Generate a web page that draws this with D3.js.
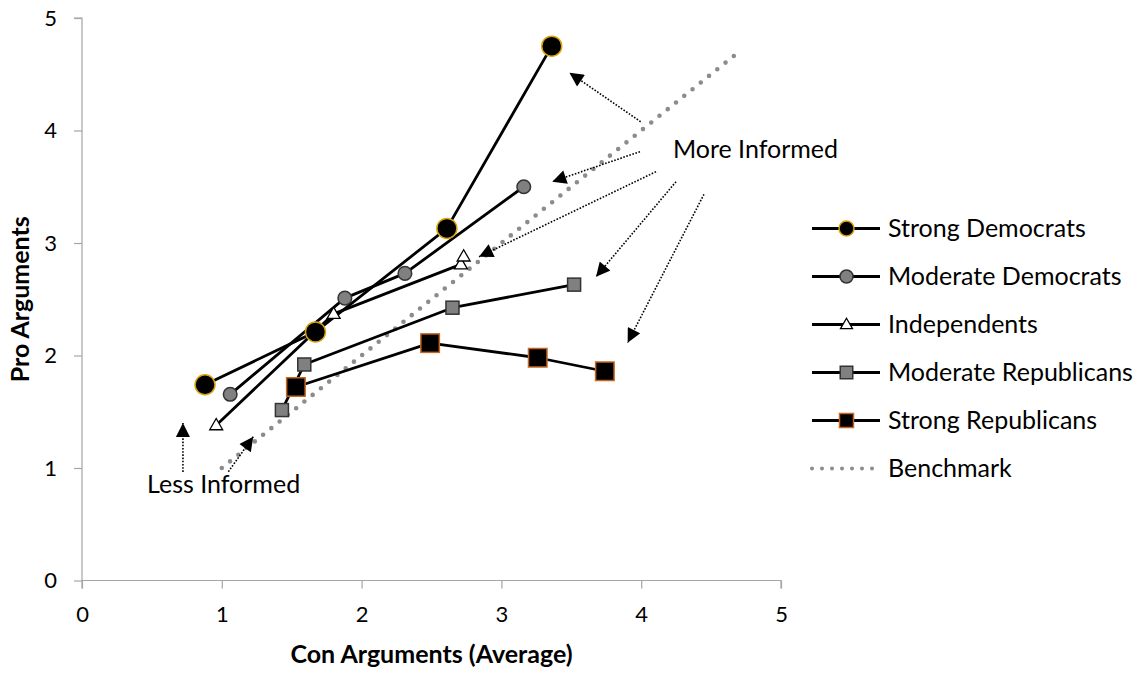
<!DOCTYPE html>
<html>
<head>
<meta charset="utf-8">
<script src="https://cdn.jsdelivr.net/npm/d3@7"></script>
<style>
  html, body { margin: 0; padding: 0; background: #fff; }
  svg { display: block; font-family: Lato, "Open Sans", sans-serif; }
</style>
</head>
<body>
<svg id="chart" width="1147" height="673"></svg>
<script>
// Average number of con (x) and pro (y) arguments, by partisan group
const strongDemocrats = [[0.88, 1.74], [1.67, 2.21], [2.61, 3.13], [3.36, 4.75]];
const moderateDemocrats = [[1.06, 1.655], [1.88, 2.51], [2.31, 2.73], [3.16, 3.50]];
const independents = [[0.96, 1.38], [1.80, 2.37], [2.71, 2.81], [2.73, 2.88]];
const moderateRepublicans = [[1.43, 1.515], [1.59, 1.92], [2.65, 2.425], [3.52, 2.63]];
const strongRepublicans = [[1.53, 1.72], [2.49, 2.11], [3.26, 1.98], [3.74, 1.86]];
const benchmark = [[1.0, 1.0], [4.72, 4.72]];

const seriesNames = ["Strong Democrats", "Moderate Democrats", "Independents",
                     "Moderate Republicans", "Strong Republicans", "Benchmark"];
const xTicks = [0, 1, 2, 3, 4, 5];
const yTicks = [0, 1, 2, 3, 4, 5];

// Annotation arrows (from -> to) in chart units
const lessInformedArrows = [
  [[0.722, 0.965], [0.722, 1.40]],
  [[1.047, 0.967], [1.225, 1.278]]
];
const moreInformedArrows = [
  [[3.996, 4.078], [3.487, 4.514]],
  [[3.991, 3.812], [3.364, 3.545]],
  [[4.106, 3.634], [2.840, 2.878]],
  [[4.249, 3.545], [3.677, 2.700]],
  [[4.449, 3.433], [3.903, 2.114]]
];
const annotationLabels = [
  { text: "More Informed", at: [4.227, 3.755] },
  { text: "Less Informed", at: [0.465, 0.78] }
];

const svg = d3.select("#chart");
const x = d3.scaleLinear().domain([0, 5]).range([82, 781]);
const y = d3.scaleLinear().domain([0, 5]).range([580.5, 18]);

const axisColor = "#a6a6a6";
const labelSize = "25px";

// Axes
const gx = svg.append("g").attr("transform", `translate(0,${y(0)})`)
  .call(d3.axisBottom(x).tickValues(xTicks).tickFormat(d3.format("d")).tickSize(8).tickPadding(18));
const gy = svg.append("g").attr("transform", `translate(${x(0)},0)`)
  .call(d3.axisLeft(y).tickValues(yTicks).tickFormat(d3.format("d")).tickSize(8).tickPadding(17));
[gx, gy].forEach(g => {
  g.select(".domain").attr("stroke", axisColor).attr("stroke-width", 1.2);
  g.selectAll(".tick line").attr("stroke", axisColor).attr("stroke-width", 1.2);
  g.selectAll(".tick text").attr("fill", "#000").style("font-size", "22px")
    .style("font-family", "Lato, 'Open Sans', sans-serif");
});
gx.select(".domain").attr("d", `M${x(0)},0H${x(5)}V8`);
gy.select(".domain").attr("d", `M-8,${y(5)}H0V${y(0) + 8}`);

// Axis titles
svg.append("text").attr("x", (x(0) + x(5)) / 2).attr("y", 663)
  .attr("text-anchor", "middle").style("font-size", labelSize).style("font-weight", "bold")
  .text("Con Arguments (Average)");
svg.append("text").attr("transform", `translate(29,${(y(0) + y(5)) / 2}) rotate(-90)`)
  .attr("text-anchor", "middle").style("font-size", labelSize).style("font-weight", "bold")
  .text("Pro Arguments");

const line = d3.line().x(d => x(d[0])).y(d => y(d[1]));

const series = [
  { name: seriesNames[0], data: strongDemocrats, shape: "circle", size: 10, lsize: 7.5, fill: "#000", stroke: "#d9a30b" },
  { name: seriesNames[1], data: moderateDemocrats, shape: "circle", size: 6.8, lsize: 6.5, fill: "#808080", stroke: "#333" },
  { name: seriesNames[2], data: independents, shape: "triangle", size: 13, lsize: 12, fill: "#fff", stroke: "#000" },
  { name: seriesNames[3], data: moderateRepublicans, shape: "square", size: 13, lsize: 12.5, fill: "#808080", stroke: "#333" },
  { name: seriesNames[4], data: strongRepublicans, shape: "square", size: 18.5, lsize: 14, fill: "#000", stroke: "#c8661f" }
];

// Benchmark dotted line
const benchStyle = g => g.attr("stroke", "#8c8c8c").attr("stroke-width", 4.6)
  .attr("stroke-linecap", "round").attr("stroke-dasharray", "0 10.6").attr("fill", "none");
svg.append("path").datum(benchmark).attr("d", line).call(benchStyle);

// Series lines
series.forEach(s => {
  svg.append("path").datum(s.data).attr("d", line)
    .attr("fill", "none").attr("stroke", "#000").attr("stroke-width", 2.8).attr("stroke-linejoin", "round");
});

function drawMarker(g, s, cx, cy, size) {
  if (s.shape === "circle") {
    g.append("circle").attr("cx", cx).attr("cy", cy).attr("r", size)
      .attr("fill", s.fill).attr("stroke", s.stroke).attr("stroke-width", 1.5);
  } else if (s.shape === "square") {
    g.append("rect").attr("x", cx - size / 2).attr("y", cy - size / 2)
      .attr("width", size).attr("height", size)
      .attr("fill", s.fill).attr("stroke", s.stroke).attr("stroke-width", 1.5);
  } else {
    const h = size * 0.87;
    g.append("path")
      .attr("d", `M${cx},${cy - h * 0.6}L${cx + size / 2},${cy + h * 0.4}L${cx - size / 2},${cy + h * 0.4}Z`)
      .attr("fill", s.fill).attr("stroke", s.stroke).attr("stroke-width", 1.3);
  }
}

// Series markers
const markers = svg.append("g");
series.forEach(s => {
  s.data.forEach(d => drawMarker(markers, s, x(d[0]), y(d[1]), s.size));
});

// Arrowhead
svg.append("defs").append("marker")
  .attr("id", "head").attr("viewBox", "0 0 10 10")
  .attr("refX", 10).attr("refY", 5)
  .attr("markerUnits", "userSpaceOnUse")
  .attr("markerWidth", 15).attr("markerHeight", 14)
  .attr("orient", "auto")
  .append("path").attr("d", "M0,0L10,5L0,10Z").attr("fill", "#000");

const arrowLayer = svg.append("g");
lessInformedArrows.concat(moreInformedArrows).forEach(a => {
  arrowLayer.append("path").datum(a).attr("d", line)
    .attr("fill", "none").attr("stroke", "#000").attr("stroke-width", 1.6)
    .attr("stroke-dasharray", "1.6 1.6").attr("marker-end", "url(#head)");
});

annotationLabels.forEach(t => {
  svg.append("text").attr("x", x(t.at[0])).attr("y", y(t.at[1]))
    .style("font-size", labelSize).text(t.text);
});

// Legend
const legend = svg.append("g");
const rowY = i => 228.5 + i * 48;
series.forEach((s, i) => {
  const ly = rowY(i);
  legend.append("line").attr("x1", 812).attr("x2", 880).attr("y1", ly).attr("y2", ly)
    .attr("stroke", "#000").attr("stroke-width", 2.8);
  drawMarker(legend, s, 846.5, ly, s.lsize);
  legend.append("text").attr("x", 888).attr("y", ly).attr("dy", "0.35em")
    .style("font-size", labelSize).text(s.name);
});
{
  const ly = rowY(5);
  legend.append("line").attr("x1", 812).attr("x2", 880).attr("y1", ly).attr("y2", ly).call(benchStyle)
    .attr("stroke-width", 4).attr("stroke-dasharray", "0 10");
  legend.append("text").attr("x", 888).attr("y", ly).attr("dy", "0.35em")
    .style("font-size", labelSize).text(seriesNames[5]);
}
</script>
</body>
</html>
